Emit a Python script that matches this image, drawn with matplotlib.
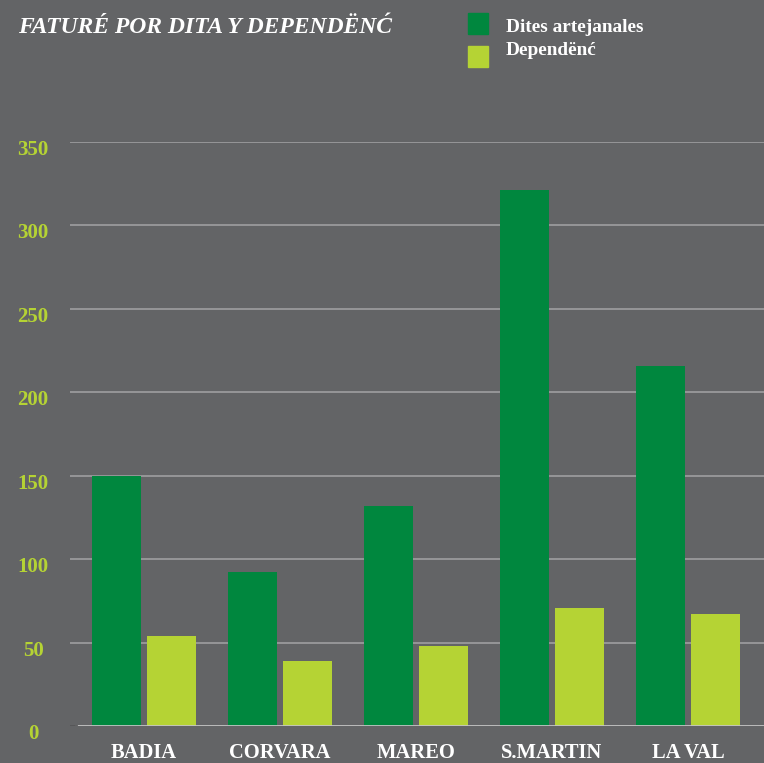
import matplotlib.pyplot as plt
import matplotlib.transforms as mtrans
import numpy as np

places = ["BADIA", "CORVARA", "MAREO", "S.MARTIN", "LA VAL"]
dites = [150, 92, 132, 321, 216]
dependenc = [54, 39, 48, 71, 67]
yticks = [0, 50, 100, 150, 200, 250, 300, 350]

bg = "#636466"
dark_green = "#00873e"
light_green = "#b5d334"
serif = ["Liberation Serif", "DejaVu Serif"]

fig = plt.figure(figsize=(7.64, 7.63), dpi=100, facecolor=bg)
ax = fig.add_axes([70 / 764, 37 / 763, 694 / 764, 584 / 763])
ax.set_facecolor(bg)

x = np.arange(len(places))
w = 0.36
ax.bar(x - 0.202, dites, w, color=dark_green, zorder=3)
ax.bar(x + 0.202, dependenc, w, color=light_green, zorder=3)

ax.set_xlim(-0.544, 4.559)
ax.set_ylim(0, 350)
for s in ax.spines.values():
    s.set_visible(False)
ax.set_xticks([])
ax.set_yticks([])

# grid lines
for t in yticks[1:]:
    ax.axhline(t, color="#a3a3a5", lw=1.1, zorder=1)
ax.axhline(0, xmin=6 / 694, color="#c4c4c4", lw=2, zorder=4)
ax.axhline(0, xmax=6 / 694, color="#555557", lw=2, zorder=4)

# y labels: centred at x=33px, baseline ~13px below each grid line
ytr = mtrans.blended_transform_factory(fig.transFigure, ax.transData)
yoff = mtrans.ScaledTranslation(0, -13 / 100, fig.dpi_scale_trans)
for t in yticks:
    ax.text(33 / 764, t, str(t), transform=ytr + yoff, ha="center", va="baseline",
            color=light_green, fontsize=15, fontweight="bold", family=serif, clip_on=False)

# x labels near the bottom edge
xtr = mtrans.blended_transform_factory(ax.transData, fig.transFigure)
for xi, name in zip(x, places):
    ax.text(xi, 1 - 758 / 763, name, transform=xtr, ha="center", va="baseline",
            color="white", fontsize=14.8, fontweight="bold", family=serif, clip_on=False)

fig.text(18 / 764, 1 - 33 / 763, "FATURÉ POR DITA Y DEPENDËNĆ", color="white",
         fontsize=17, fontstyle="italic", fontweight="bold", family=serif, va="baseline")

# legend
fig.patches.append(plt.Rectangle((468 / 764, 1 - 34 / 763), 20 / 764, 21 / 763,
                                 transform=fig.transFigure, color=dark_green))
fig.patches.append(plt.Rectangle((468 / 764, 1 - 67 / 763), 20 / 764, 21 / 763,
                                 transform=fig.transFigure, color=light_green))
fig.text(506 / 764, 1 - 32 / 763, "Dites artejanales", color="white", fontsize=13.9,
         fontweight="bold", family=serif, va="baseline")
fig.text(506 / 764, 1 - 55 / 763, "Dependënć", color="white", fontsize=13.9,
         fontweight="bold", family=serif, va="baseline")

fig.savefig("out.png", dpi=100, facecolor=bg)
